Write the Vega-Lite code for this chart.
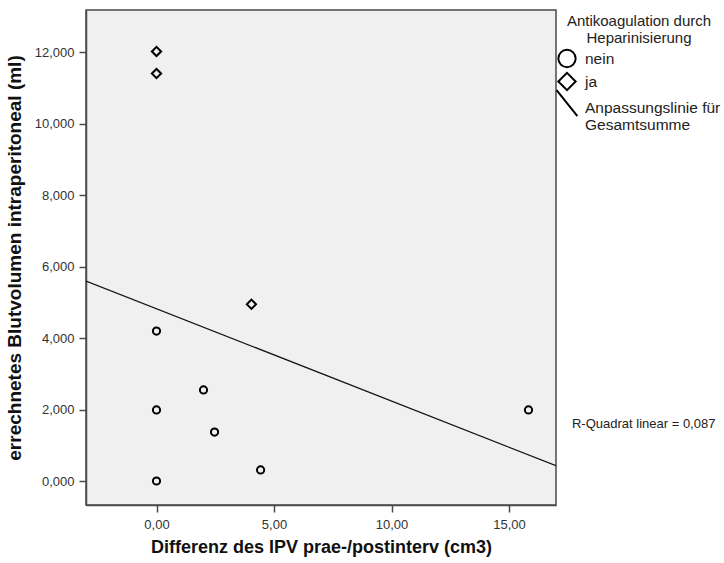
{
  "$schema": "https://vega.github.io/schema/vega-lite/v6.json",
  "autosize": {"type": "none"},
  "width": 470,
  "height": 495,
  "padding": {"left": 86, "top": 10, "right": 168, "bottom": 58},
  "background": "white",
  "config": {
    "font": "Liberation Sans",
    "view": {"fill": "#F0F0F0", "stroke": "#4a4a4a", "strokeWidth": 1.5},
    "axis": {
      "grid": false,
      "domainColor": "#4a4a4a",
      "domainWidth": 1.5,
      "tickColor": "#4a4a4a",
      "tickWidth": 1.5,
      "tickSize": 7,
      "labelFont": "Liberation Sans",
      "labelFontSize": 13,
      "labelColor": "#333333",
      "titleFont": "Liberation Sans",
      "titleFontWeight": "bold",
      "titleColor": "#111111"
    },
    "legend": {
      "titleFont": "Liberation Sans",
      "titleFontSize": 15,
      "titleFontWeight": "normal",
      "titleColor": "#222222",
      "labelFont": "Liberation Sans",
      "labelFontSize": 15.5,
      "labelColor": "#222222",
      "labelLimit": 300,
      "titleLimit": 300
    }
  },
  "datasets": {
    "points": [
      {"ipv": 0.0, "blut": 12.03, "heparin": "ja"},
      {"ipv": 0.0, "blut": 11.41, "heparin": "ja"},
      {"ipv": 4.04, "blut": 4.95, "heparin": "ja"},
      {"ipv": 0.0, "blut": 4.20, "heparin": "nein"},
      {"ipv": 0.0, "blut": 1.99, "heparin": "nein"},
      {"ipv": 0.0, "blut": 0.0, "heparin": "nein"},
      {"ipv": 2.0, "blut": 2.55, "heparin": "nein"},
      {"ipv": 2.47, "blut": 1.37, "heparin": "nein"},
      {"ipv": 4.43, "blut": 0.31, "heparin": "nein"},
      {"ipv": 15.83, "blut": 1.99, "heparin": "nein"}
    ],
    "fit": [
      {"ipv": -3, "blut": 5.60},
      {"ipv": 17, "blut": 0.428}
    ],
    "note": [
      {"ipv": 17.68, "blut": 1.60, "text": "R-Quadrat linear = 0,087"}
    ]
  },
  "layer": [
    {
      "data": {"name": "fit"},
      "mark": {"type": "line", "color": "#111111", "strokeWidth": 1.3, "clip": true},
      "encoding": {
        "x": {"field": "ipv", "type": "quantitative"},
        "y": {"field": "blut", "type": "quantitative"}
      }
    },
    {
      "data": {"name": "points"},
      "mark": {"type": "point", "filled": false, "strokeWidth": 2, "color": "#000000", "opacity": 1},
      "encoding": {
        "x": {
          "field": "ipv",
          "type": "quantitative",
          "scale": {"domain": [-3, 17], "nice": false, "zero": false},
          "axis": {
            "title": "Differenz des IPV prae-/postinterv (cm3)",
            "titleFontSize": 18,
            "values": [0, 5, 10, 15],
            "labelExpr": "replace(format(datum.value, '.2f'), '.', ',')",
            "labelPadding": 6,
            "titlePadding": 7
          }
        },
        "y": {
          "field": "blut",
          "type": "quantitative",
          "scale": {"domain": [-0.672, 13.19], "nice": false, "zero": false},
          "axis": {
            "title": "errechnetes Blutvolumen intraperitoneal (ml)",
            "titleFontSize": 19,
            "values": [0, 2, 4, 6, 8, 10, 12],
            "labelExpr": "replace(format(datum.value, '.3f'), '.', ',')",
            "labelPadding": 5,
            "titlePadding": 10
          }
        },
        "shape": {
          "field": "heparin",
          "type": "nominal",
          "scale": {
            "domain": ["nein", "ja", "fit"],
            "range": ["circle", "diamond", "M -1.2 -2.0 L 1.2 1.0"]
          },
          "legend": {
            "title": ["Antikoagulation durch", "Heparinisierung"],
            "titleAnchor": "middle",
            "titleAlign": "center",
            "titleLineHeight": 16.5,
            "titlePadding": 3,
            "symbolSize": 300,
            "symbolStrokeWidth": 2,
            "symbolStrokeColor": "#000000",
            "symbolFillColor": "transparent",
            "labelExpr": "datum.value == 'fit' ? ['Anpassungslinie für', 'Gesamtsumme'] : datum.label",
            "offset": -3,
            "padding": 4,
            "rowPadding": -9,
            "labelOffset": 8
          }
        },
        "size": {
          "field": "heparin",
          "type": "nominal",
          "scale": {"domain": ["nein", "ja"], "range": [52, 85]},
          "legend": null
        }
      }
    },
    {
      "data": {"name": "note"},
      "mark": {"type": "text", "align": "left", "baseline": "middle", "fontSize": 13, "color": "#222222", "clip": false},
      "encoding": {
        "x": {"field": "ipv", "type": "quantitative"},
        "y": {"field": "blut", "type": "quantitative"},
        "text": {"field": "text"}
      }
    }
  ]
}
